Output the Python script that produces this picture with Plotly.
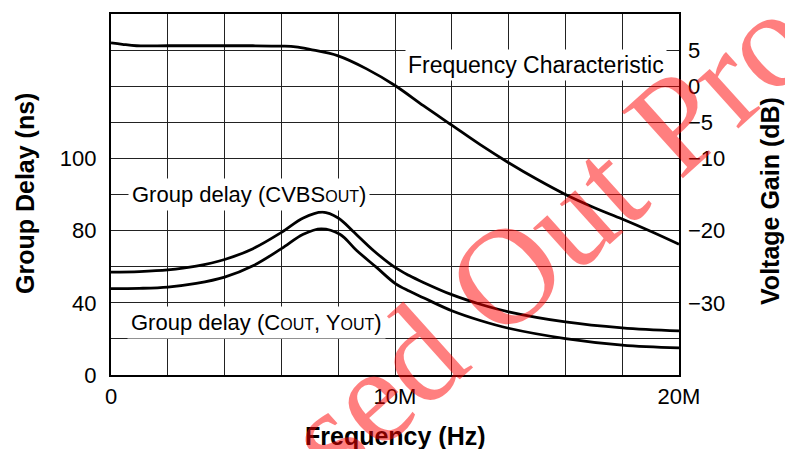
import plotly.graph_objects as go

# ---------------- data ----------------
gain_freq_mhz = [0, 0.4, 0.9, 2, 3, 4, 5, 6, 6.5, 7, 8, 9, 10, 11, 12, 13, 14, 15, 16, 17, 18, 19, 20]
gain_db = [6.0, 5.8, 5.6, 5.6, 5.6, 5.6, 5.6, 5.55, 5.45, 5.1, 4.2, 2.4, 0.1, -2.7, -5.4, -8.1,
           -10.6, -12.9, -15.0, -16.8, -18.4, -20.1, -21.9]

cvbs_freq_mhz = [0, 1, 2, 3, 4, 5, 6, 6.77, 7.45, 8, 8.53, 9.24, 10, 10.5, 11, 12, 13, 14, 16, 18, 20]
delay_cvbs_ns = [57, 57.3, 58.2, 60.3, 64, 70, 79, 87, 90.2, 87, 79.5, 69, 59.6, 55.1, 51.3, 44.5,
                 39.2, 35.0, 29.4, 26.1, 24.4]
cy_freq_mhz = [0, 1, 2, 3, 4, 5, 6, 6.77, 7.4, 8.06, 8.65, 9.35, 10, 10.5, 11, 12, 13, 14, 16, 18, 20]
delay_cy_ns = [47.8, 48, 48.7, 50.7, 54.2, 60.5, 70, 78, 81, 78, 69, 59.6, 50.8, 46.5, 42.8, 35.6,
               30.2, 25.9, 20.2, 16.6, 15]

x_tick_vals_mhz = [0, 2, 4, 6, 8, 10, 12, 14, 16, 18, 20]
x_tick_text = ["0", "", "", "", "", "10M", "", "", "", "", "20M"]
left_tick_vals = [0, 40, 80, 120]
left_tick_text = ["0", "40", "80", "100"]
right_tick_vals = [-35, -30, -25, -20, -15, -10, -5, 0, 5]
right_tick_text = ["", "\u221230", "", "\u221220", "", "\u221210", "\u22125", "0", "5"]

# ---------------- layout helpers ----------------
W, H = 785, 449
L, R, T, B = 111, 106, 12, 74
PW, PH = W - L - R, H - T - B


def px(x):
    return (x - L) / PW


def py(y):
    return (H - B - y) / PH


FONT = "Liberation Sans, Arial, Helvetica, sans-serif"
hz = lambda v: [f * 1e6 for f in v]

fig = go.Figure()
line = dict(color="black", width=2.8, shape="spline", smoothing=1.0)
fig.add_trace(go.Scatter(x=hz(gain_freq_mhz), y=gain_db, mode="lines", line=line,
                         yaxis="y2", showlegend=False, hoverinfo="skip"))
fig.add_trace(go.Scatter(x=hz(cvbs_freq_mhz), y=delay_cvbs_ns, mode="lines", line=line,
                         showlegend=False, hoverinfo="skip"))
fig.add_trace(go.Scatter(x=hz(cy_freq_mhz), y=delay_cy_ns, mode="lines", line=line,
                         showlegend=False, hoverinfo="skip"))

sub = "<span style='font-size:16px'>OUT</span>"
label_font = dict(family=FONT, size=22, color="black")
annotations = [
    dict(text="Frequency Characteristic", x=px(536), y=py(63), xref="paper", yref="paper",
         xanchor="center", yanchor="middle", showarrow=False, bgcolor="white", borderpad=2,
         font=dict(family=FONT, size=23, color="black")),
    dict(text="Group delay (CVBS" + sub + ")", x=px(128), y=py(193), xref="paper", yref="paper",
         xanchor="left", yanchor="middle", showarrow=False, bgcolor="white", borderpad=3,
         font=label_font),
    dict(text="Group delay (C" + sub + ", Y" + sub + ")", x=px(127), y=py(322), xref="paper",
         yref="paper", xanchor="left", yanchor="middle", showarrow=False, bgcolor="white",
         borderpad=3, font=label_font),
    dict(text="<b>Group Delay (ns)</b>", x=px(25), y=py(193), xref="paper", yref="paper",
         textangle=-90, xanchor="center", yanchor="middle", showarrow=False,
         font=dict(family=FONT, size=25, color="black")),
    dict(text="<b>Voltage Gain (dB)</b>", x=px(770), y=py(200), xref="paper", yref="paper",
         textangle=-90, xanchor="center", yanchor="middle", showarrow=False,
         font=dict(family=FONT, size=25, color="black")),
    dict(text="<b>Frequency (Hz)</b>", x=px(395), y=py(436), xref="paper", yref="paper",
         xanchor="center", yanchor="middle", showarrow=False,
         font=dict(family=FONT, size=25, color="black")),
    dict(text="Phased Out Product", x=px(560), y=py(226), xref="paper", yref="paper",
         xanchor="center", yanchor="middle", showarrow=False, textangle=-42,
         font=dict(family="Liberation Serif, Times New Roman, serif", size=138,
                   color="rgba(255,0,0,0.5)")),
]

fig.update_layout(
    width=W, height=H,
    margin=dict(l=L, r=R, t=T, b=B, pad=0),
    paper_bgcolor="white", plot_bgcolor="white",
    font=dict(family=FONT, size=22, color="black"),
    annotations=annotations,
    xaxis=dict(range=[0, 20e6], tickvals=hz(x_tick_vals_mhz), ticktext=x_tick_text,
               showgrid=True, gridcolor="#222", gridwidth=1.3, zeroline=False,
               showline=True, mirror=True, linecolor="black", linewidth=2.2,
               ticks="", ticklabelstandoff=0, tickfont=dict(size=22)),
    yaxis=dict(range=[0, 200], tickvals=left_tick_vals, ticktext=left_tick_text,
               showgrid=False, zeroline=False, showline=True, mirror=True,
               linecolor="black", linewidth=2.2, ticks="", ticklabelstandoff=8,
               tickfont=dict(size=22)),
    yaxis2=dict(range=[-40, 10], overlaying="y", side="right", tickvals=right_tick_vals,
                ticktext=right_tick_text, showgrid=True, gridcolor="#222", gridwidth=1.3,
                zeroline=False, showline=False, ticks="", ticklabelstandoff=8,
                tickfont=dict(size=22)),
)

fig.write_html("out.html", config={"displayModeBar": False},
               post_script="document.body.style.margin='0';document.body.style.overflow='hidden';")
